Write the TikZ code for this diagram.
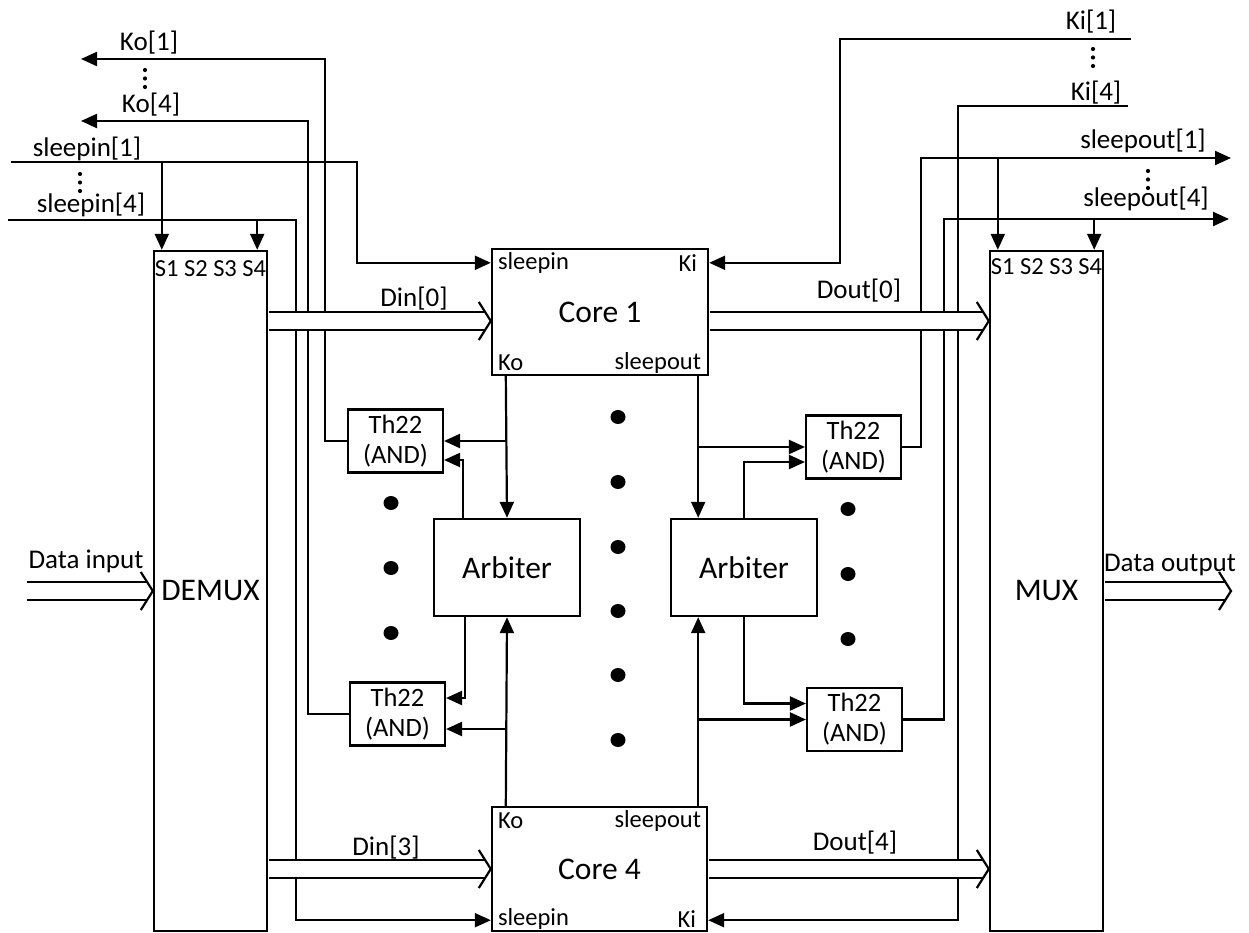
\documentclass[tikz,border=0pt]{standalone}
\usepackage{fontspec}
\setmainfont{Carlito}
\usetikzlibrary{arrows.meta,calc}

% hollow bus arrow: double line plus an open chevron at the end
\newcommand\busline[2]{%
  \draw[bus] (#1) -- (#2);
  \draw[wire,line join=miter] ($(#2)+(-12,-19)$) -- (#2) -- ($(#2)+(-12,19)$);}

\begin{document}
\begin{tikzpicture}[x=1pt,y=-1pt]
    \tikzset{block/.style = {draw=black,line width=2.4pt,inner sep=0pt,font=\fontsize{31.5}{36}\selectfont},
      gate/.style = {draw=black,line width=2.1pt,inner sep=0pt,minimum width=95pt,minimum height=63pt,align=center,font=\fontsize{26.5}{30}\selectfont},
      wire/.style = {line width=2.2pt},
      arr/.style = {wire,-{Triangle[length=16pt,width=14pt]}},
      bus/.style = {line width=2.2pt,double=white,double distance=15.8pt,shorten <=1.2pt,shorten >=5.5pt},
      lbl/.style = {inner sep=0pt,font=\fontsize{27}{30}\selectfont},
      port/.style = {inner sep=0pt,font=\fontsize{24.5}{26}\selectfont}}
    \useasboundingbox (0,0) rectangle (1249,933);

    \node[block,minimum width=113pt,minimum height=680pt] (demux) at (210.5,591) {DEMUX};
    \node[block,minimum width=113pt,minimum height=680pt] (mux) at (1046.5,591) {MUX};
    \node[block,minimum width=216pt,minimum height=126pt] (core1) at (600,312) {Core 1};
    \node[block,minimum width=215pt,minimum height=124pt] (core4) at (599.5,869) {Core 4};
    \node[block,minimum width=146pt,minimum height=97pt] (arbL) at (507,567.5) {Arbiter};
    \node[block,minimum width=146pt,minimum height=97pt] (arbR) at (744,567.5) {Arbiter};
    \node[gate] (thL1) at (395.5,441) {Th22\\(AND)};
    \node[gate] (thL2) at (397.5,714) {Th22\\(AND)};
    \node[gate] (thR1) at (853.5,447) {Th22\\(AND)};
    \node[gate] (thR2) at (854.5,719.5) {Th22\\(AND)};

    \node[port] (dsel) at ($(demux.north)+(0,19)$) {S1 S2 S3 S4};
    \node[port] (msel) at ($(mux.north)+(0,17)$) {S1 S2 S3 S4};
    \node[port,anchor=west] (c1sil) at ($(core1.north west)+(7,15)$) {sleepin};
    \node[port,anchor=east] (c1kil) at ($(core1.north east)+(-12,15)$) {Ki};
    \node[port,anchor=west] (c1kol) at ($(core1.south west)+(7,-13)$) {Ko};
    \node[port,anchor=east] (c1sol) at ($(core1.south east)+(-8,-13)$) {sleepout};
    \node[port,anchor=west] (c4kol) at ($(core4.north west)+(7,15)$) {Ko};
    \node[port,anchor=east] (c4sol) at ($(core4.north east)+(-7,15)$) {sleepout};
    \node[port,anchor=west] (c4sil) at ($(core4.south west)+(7,-13)$) {sleepin};
    \node[port,anchor=east] (c4kil) at ($(core4.south east)+(-12,-13)$) {Ki};

    \coordinate (c1si) at ($(core1.north west)+(0,15)$);
    \coordinate (c1ki) at ($(core1.north east)+(0,15)$);
    \coordinate (c1ko) at ($(core1.south west)+(15,0)$);
    \coordinate (c1so) at ($(core1.south east)+(-11,0)$);
    \coordinate (c4ko) at ($(core4.north west)+(15,0)$);
    \coordinate (c4so) at ($(core4.north east)+(-10,0)$);
    \coordinate (c4si) at ($(core4.south west)+(0,-12)$);
    \coordinate (c4ki) at ($(core4.south east)+(0,-12)$);
    \coordinate (ds1) at ($(demux.north west)+(9,0)$);
    \coordinate (ds4) at ($(demux.north east)+(-11,0)$);
    \coordinate (ms1) at ($(mux.north west)+(9,0)$);
    \coordinate (ms4) at ($(mux.north east)+(-10,0)$);
    \coordinate (tl2b) at ($(thL2.east)+(0,15)$);
    \coordinate (ko1) at (81,59);
    \coordinate (ko4) at (81,121);
    \coordinate (si1) at (11,162);
    \coordinate (si4) at (8,220);
    \coordinate (ki1) at (1131,39);
    \coordinate (ki4) at (1128,106);
    \coordinate (so1) at (1231,158);
    \coordinate (so4) at (1229,219);
    \coordinate (datain) at (26,591);
    \coordinate (dataout) at (1231,591);

    % left side
    \draw[arr] (thL1.west) -- ++(-22,0) |- (ko1);
    \draw[arr] (thL2.west) -- ++(-41,0) |- (ko4);
    \draw[arr] (si1) -| ($(c1si)+(-134,0)$) -- (c1si);
    \draw[arr] (si4) -| ($(c4si)+(-195,0)$) -- (c4si);
    \draw[arr] (ds1 |- si1) -- (ds1);
    \draw[arr] (ds4 |- si4) -- (ds4);
    \draw[arr] (c1ko) -- (arbL.north);
    \draw[arr] (c1ko |- thL1.east) -- (thL1.east);
    \draw[arr] ($(arbL.north west)+(30,0)$) |- ($(thL1.east)+(0,19)$);
    \draw[arr] (c4ko) -- (arbL.south);
    \draw[arr] ($(arbL.south west)+(32,0)$) |- ($(thL2.east)+(0,-16)$);
    \draw[arr] (c4ko |- tl2b) -- (tl2b);

    % right side
    \draw[arr] (c1so) -- (c1so |- arbR.north);
    \draw[arr] (c1so |- thR1.west) -- (thR1.west);
    \draw[arr] (arbR.north) |- ($(thR1.west)+(0,15)$);
    \draw[arr] (c4so) -- (c4so |- arbR.south);
    \draw[arr] (c4so |- thR2.west) -- (thR2.west);
    \draw[arr] (arbR.south) |- ($(thR2.west)+(0,-16)$);
    \draw[arr] (thR1.east) -- ++(19,0) |- (so1);
    \draw[arr] (thR2.east) -- ++(41,0) |- (so4);
    \draw[arr] (ms1 |- so1) -- (ms1);
    \draw[arr] (ms4 |- so4) -- (ms4);
    \draw[arr] (ki1) -| ($(c1ki)+(131,0)$) -- (c1ki);
    \draw[arr] (ki4) -| ($(c4ki)+(250,0)$) -- (c4ki);

    % data buses
    \coordinate (d0) at ($(core1.west)+(0,9)$);
    \coordinate (din0s) at (d0 -| demux.east);
    \coordinate (dout0s) at (d0 -| core1.east);
    \coordinate (dout0e) at (d0 -| mux.west);
    \coordinate (din3s) at (core4.west -| demux.east);
    \coordinate (dout4e) at (core4.east -| mux.west);
    \busline{din0s}{d0}
    \busline{dout0s}{dout0e}
    \busline{din3s}{core4.west}
    \busline{core4.east}{dout4e}
    \busline{datain}{demux.west}
    \busline{mux.east}{dataout}

    \node[lbl] (lko1) at (149,43) {Ko[1]};
    \node[lbl] (lko4) at (151,105) {Ko[4]};
    \node[lbl] (lsi1) at (87,149) {sleepin[1]};
    \node[lbl] (lsi4) at (91,205) {sleepin[4]};
    \node[lbl] (lki1) at (1091,22) {Ki[1]};
    \node[lbl] (lki4) at (1096,93) {Ki[4]};
    \node[lbl] (lso1) at (1143,141) {sleepout[1]};
    \node[lbl] (lso4) at (1146,199) {sleepout[4]};
    \node[lbl] (ldin0) at (414,299) {Din[0]};
    \node[lbl] (ldout0) at (859,291) {Dout[0]};
    \node[lbl] (ldin3) at (386,848) {Din[3]};
    \node[lbl] (ldout4) at (855,843) {Dout[4]};
    \node[lbl] (ldin) at (86,561) {Data input};
    \node[lbl] (ldout) at (1170,565) {Data output};

    \foreach \x/\y in {145/70,80/174,1093/49,1148/171}
      \foreach \d in {0,1,2} \fill (\x,\y+8.5*\d) circle (2.1pt);
    \foreach \y in {417,482,547,611,675,740} \fill (618,\y) ellipse (7.5pt and 7pt);
    \foreach \y in {503,568,633} \fill (391,\y) ellipse (7.5pt and 7pt);
    \foreach \y in {509,574,639} \fill (848,\y) ellipse (7.5pt and 7pt);
\end{tikzpicture}
\end{document}
